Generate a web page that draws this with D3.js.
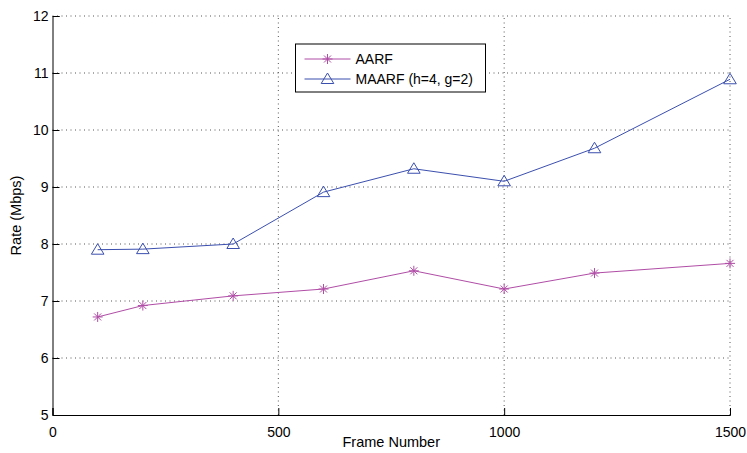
<!DOCTYPE html>
<html>
<head>
<meta charset="utf-8">
<script src="https://cdn.jsdelivr.net/npm/d3@7"></script>
<style>
  body { margin: 0; background: #fff; }
  text { font-family: "Liberation Sans", Arial, sans-serif; }
</style>
</head>
<body>
<script>
// data
const frames = [100, 200, 400, 600, 800, 1000, 1200, 1500];
const aarf = [6.72, 6.92, 7.09, 7.21, 7.53, 7.21, 7.49, 7.66];
const maarf = [7.90, 7.91, 8.00, 8.91, 9.32, 9.10, 9.68, 10.89];
const xTicks = [0, 500, 1000, 1500];
const yTicks = [5, 6, 7, 8, 9, 10, 11, 12];

const width = 747, height = 453;
const margin = {top: 16, right: 17, bottom: 38, left: 52.5};

const svg = d3.select("body").append("svg")
    .attr("width", width)
    .attr("height", height);

const x = d3.scaleLinear().domain([0, 1500]).range([margin.left, width - margin.right]);
const y = d3.scaleLinear().domain([5, 12]).range([height - margin.bottom, margin.top]);

// grid (dotted)
svg.append("g")
  .selectAll("line")
  .data(xTicks.slice(1))
  .join("line")
    .attr("x1", d => x(d)).attr("x2", d => x(d))
    .attr("y1", y(5)).attr("y2", y(12))
    .attr("stroke", "#555").attr("stroke-width", 1)
    .attr("stroke-dasharray", "1,3.5");

svg.append("g")
  .selectAll("line")
  .data(yTicks.slice(1))
  .join("line")
    .attr("x1", x(0)).attr("x2", x(1500))
    .attr("y1", d => y(d)).attr("y2", d => y(d))
    .attr("stroke", "#555").attr("stroke-width", 1)
    .attr("stroke-dasharray", "1,3.5");

// axes, matlab style ticks pointing inward
const xAxis = d3.axisBottom(x).tickValues(xTicks).tickFormat(d3.format("d")).tickSize(-7).tickPadding(12);
const yAxis = d3.axisLeft(y).tickValues(yTicks).tickFormat(d3.format("d")).tickSize(-7).tickPadding(4);

svg.append("g")
    .attr("transform", `translate(0,${y(5)})`)
    .call(xAxis)
    .call(g => g.select(".domain").attr("stroke", "#000"))
    .call(g => g.selectAll("text").attr("font-size", 14).attr("fill", "#000")
      .attr("font-family", "Liberation Sans, Arial, sans-serif"));

svg.append("g")
    .attr("transform", `translate(${x(0)},0)`)
    .call(yAxis)
    .call(g => g.select(".domain").attr("stroke", "#000"))
    .call(g => g.selectAll("text").attr("font-size", 14).attr("fill", "#000")
      .attr("font-family", "Liberation Sans, Arial, sans-serif"));

// axis labels
svg.append("text")
    .attr("x", x(750)).attr("y", 447)
    .attr("text-anchor", "middle")
    .attr("font-size", 14.5)
    .text("Frame Number");

svg.append("text")
    .attr("transform", `translate(21,${y(8.5)}) rotate(-90)`)
    .attr("text-anchor", "middle")
    .attr("font-size", 14.5)
    .text("Rate (Mbps)");

const cA = "#b04da6", cM = "#3b4fae";

const line = d3.line().x((d, i) => x(frames[i])).y(d => y(d));

svg.append("path").datum(aarf)
    .attr("fill", "none").attr("stroke", cA).attr("stroke-width", 1).attr("d", line);
svg.append("path").datum(maarf)
    .attr("fill", "none").attr("stroke", cM).attr("stroke-width", 1).attr("d", line);

// markers
function star(g, r) {
  g.append("path")
    .attr("d", `M${-r},0H${r}M0,${-r}V${r}M${-r*0.7},${-r*0.7}L${r*0.7},${r*0.7}M${-r*0.7},${r*0.7}L${r*0.7},${-r*0.7}`)
    .attr("stroke", cA).attr("stroke-width", 1).attr("fill", "none");
}
function tri(g, r) {
  g.append("path")
    .attr("d", `M0,${-r}L${r*1.05},${r*0.75}H${-r*1.05}Z`)
    .attr("stroke", cM).attr("stroke-width", 1).attr("fill", "none");
}

svg.append("g").selectAll("g")
  .data(aarf)
  .join("g")
    .attr("transform", (d, i) => `translate(${x(frames[i])},${y(d)})`)
    .each(function() { star(d3.select(this), 5); });

svg.append("g").selectAll("g")
  .data(maarf)
  .join("g")
    .attr("transform", (d, i) => `translate(${x(frames[i])},${y(d)})`)
    .each(function() { tri(d3.select(this), 6); });

// legend
const lg = svg.append("g").attr("transform", "translate(295.5,44)");
lg.append("rect")
    .attr("width", 190).attr("height", 48)
    .attr("fill", "#fff").attr("stroke", "#000").attr("stroke-width", 1);

const items = [{name: "AARF", c: cA, m: star}, {name: "MAARF (h=4, g=2)", c: cM, m: tri}];
items.forEach((it, i) => {
  const yy = 15 + i * 20;
  lg.append("line").attr("x1", 9).attr("x2", 55).attr("y1", yy).attr("y2", yy)
    .attr("stroke", it.c).attr("stroke-width", 1);
  const mg = lg.append("g").attr("transform", `translate(32,${yy})`);
  it.m(mg, i ? 6 : 5);
  lg.append("text").attr("x", 60).attr("y", yy + 5)
    .attr("font-size", 14).text(it.name);
});
</script>
</body>
</html>
